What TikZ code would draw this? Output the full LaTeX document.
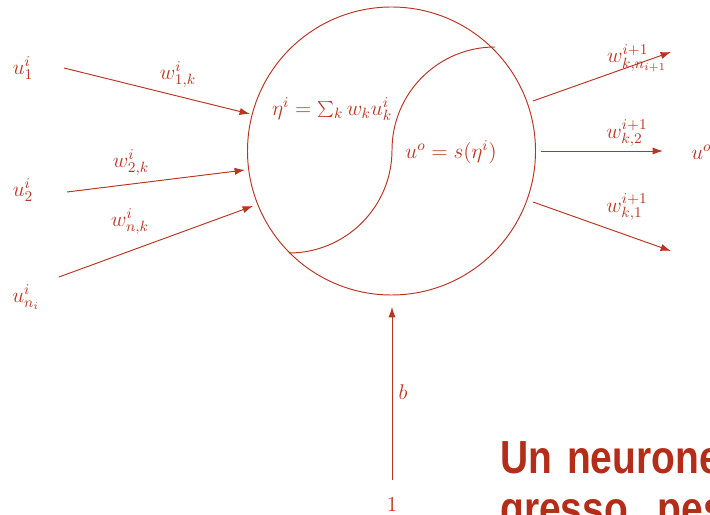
\RequirePackage{fix-cm}
\documentclass[tikz,border=0pt]{standalone}
\usepackage{fontspec}
\newfontfamily\headfont[FakeStretch=0.84]{Liberation Sans}
\usetikzlibrary{arrows.meta}
\definecolor{nred}{RGB}{186,52,34}
\definecolor{hred}{RGB}{180,45,25}
\begin{document}
\begin{tikzpicture}[x=0.625pt,y=0.625pt,
  line/.style={draw=nred,line width=0.6pt},
  arr/.style={line,-{Latex[length=6.5pt,width=4.5pt]}},
  lbl/.style={text=nred,inner sep=0pt,font=\fontsize{13.3}{16}\selectfont},
  head/.style={text=hred,inner sep=0pt,anchor=base west,font=\headfont\bfseries\fontsize{29}{32}\selectfont}]
\useasboundingbox (0,0) rectangle (710,514);
\clip (0,0) rectangle (710,514);
% neuron body
\node[circle,line,minimum size=180pt,inner sep=0pt] (neuron) at (391.5,363) {};
\draw[line] (495,467) arc[start angle=90,end angle=180,radius=103]
                      arc[start angle=0,end angle=-90,radius=103];
\node[lbl] (sum) at (332,405) {$\eta^i=\sum_k w_k u_k^i$};
\node[lbl] (act) at (451,362) {$u^o=s(\eta^i)$};
% inputs
\node[lbl] (u1) at (23,446) {$u_1^i$};
\node[lbl] (u2) at (23,324) {$u_2^i$};
\node[lbl] (un) at (26,217) {$u_{n_i}^i$};
\coordinate (s1) at (64,446);
\coordinate (s2) at (67,322);
\coordinate (s3) at (59,237);
\coordinate (e1) at (250,400);
\coordinate (e2) at (245,344);
\coordinate (e3) at (253,308);
\draw[arr] (s1) -- (e1);
\draw[arr] (s2) -- (e2);
\draw[arr] (s3) -- (e3);
\node[lbl] (w1) at (178,439) {$w_{1,k}^i$};
\node[lbl] (w2) at (131,351) {$w_{2,k}^i$};
\node[lbl] (wn) at (130,292) {$w_{n,k}^i$};
% outputs
\coordinate (o1) at (533,413);
\coordinate (o2) at (541,363);
\coordinate (o3) at (533,312);
\coordinate (t1) at (671,462);
\coordinate (t2) at (663,363);
\coordinate (t3) at (671,263);
\draw[arr] (o1) -- (t1);
\draw[arr] (o2) -- (t2);
\draw[arr] (o3) -- (t3);
\node[lbl] (v1) at (637,456) {$w_{k,n_{i+1}}^{i+1}$};
\node[lbl] (v2) at (627,381) {$w_{k,2}^{i+1}$};
\node[lbl] (v3) at (627,307) {$w_{k,1}^{i+1}$};
\node[lbl,anchor=west] (uo) at (691,362) {$u^o$};
% bias
\node[lbl] (one) at (392,9) {$1$};
\coordinate (bs) at (392,34);
\coordinate (be) at (392,207);
\draw[arr] (bs) -- (be);
\node[lbl] (b) at (403,122) {$b$};
% heading
\node[head] (h1) at (500,41) {Un\hspace{0.32em}neurone};
\node[head] (h2) at (500,-10) {gresso,\hspace{0.4em}pesi};
\end{tikzpicture}
\end{document}
